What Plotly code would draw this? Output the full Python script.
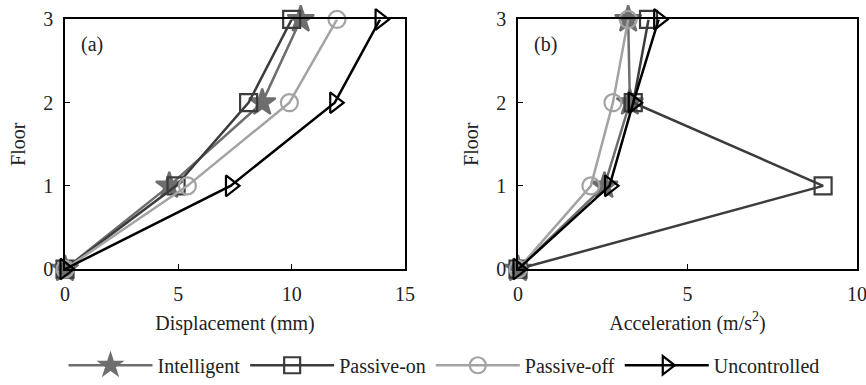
import plotly.graph_objects as go

floors = [0, 1, 2, 3]
series_names = ["Intelligent", "Passive-on", "Passive-off", "Uncontrolled"]

disp_intelligent = [0, 4.6, 8.7, 10.4]
disp_passive_on = [0, 4.9, 8.1, 10.0]
disp_passive_off = [0, 5.4, 9.9, 12.0]
disp_uncontrolled = [0, 7.3, 11.9, 13.9]

acc_intelligent = [0, 2.55, 3.3, 3.25]
acc_passive_on = [0, 9.0, 3.4, 3.85]
acc_passive_off = [0, 2.15, 2.8, 3.25]
acc_uncontrolled = [0, 2.7, 3.4, 4.15]

x_ticks_a = [0, 5, 10, 15]
x_ticks_b = [0, 5, 10]
y_ticks = [0, 1, 2, 3]

colors = ["#6e6e6e", "#3c3c3c", "#a3a3a3", "#000000"]
symbols = ["star", "square-open", "circle-open", "triangle-right-open"]
sizes = [20, 17, 17, 18]

disp = [disp_intelligent, disp_passive_on, disp_passive_off, disp_uncontrolled]
acc = [acc_intelligent, acc_passive_on, acc_passive_off, acc_uncontrolled]

FONT = "Liberation Serif"
FS = 20

fig = go.Figure()
for i, name in enumerate(series_names):
    for data, xa, show in [(disp[i], "x", True), (acc[i], "x2", False)]:
        fig.add_trace(go.Scatter(
            x=data, y=floors, xaxis=xa, yaxis="y" if xa == "x" else "y2",
            mode="lines+markers", name=name, showlegend=show, legendgroup=name,
            line=dict(color=colors[i], width=2.5),
            marker=dict(symbol=symbols[i], size=sizes[i], color=colors[i],
                        line=dict(color=colors[i], width=2.2)),
            cliponaxis=False,
        ))

axis_common = dict(showline=True, linecolor="black", linewidth=1.5, mirror=True,
                   ticks="inside", ticklen=5, tickwidth=1.2, tickcolor="black",
                   showgrid=False, zeroline=False, automargin=False,
                   ticklabeloverflow="allow",
                   tickfont=dict(family=FONT, size=FS, color="#222"))

W, H = 866, 385
ydom = [108 / H, 365 / H]

fig.update_layout(
    width=W, height=H,
    margin=dict(l=0, r=0, t=0, b=0),
    plot_bgcolor="white", paper_bgcolor="white",
    font=dict(family=FONT, size=FS, color="#222"),
    xaxis=dict(domain=[65 / W, 405 / W], range=[0, 15], tickvals=x_ticks_a, ticklabelstandoff=6,
               title=dict(text="Displacement (mm)", standoff=12, font=dict(family=FONT, size=FS)),
               anchor="y", **axis_common),
    yaxis=dict(domain=ydom, range=[0, 3], tickvals=y_ticks, ticklabelstandoff=6,
               title=dict(text="Floor", standoff=12, font=dict(family=FONT, size=FS)),
               anchor="x", **axis_common),
    xaxis2=dict(domain=[518 / W, 857 / W], range=[0, 10], tickvals=x_ticks_b, ticklabelstandoff=6,
                title=dict(text="Acceleration (m/s<sup>2</sup>)", standoff=12, font=dict(family=FONT, size=FS)),
                anchor="y2", **axis_common),
    yaxis2=dict(domain=ydom, range=[0, 3], tickvals=y_ticks, ticklabelstandoff=6,
                title=dict(text="Floor", standoff=12, font=dict(family=FONT, size=FS)),
                anchor="x2", **axis_common),
    legend=dict(orientation="h", x=444 / W, xanchor="center", y=(H - 376) / H, yanchor="middle",
                font=dict(family=FONT, size=FS, color="#222"), itemwidth=84,
                tracegroupgap=0, bgcolor="rgba(0,0,0,0)"),
    annotations=[
        dict(text="(a)", xref="x domain", yref="y domain", x=0.04, y=0.9,
             xanchor="left", yanchor="middle", showarrow=False, font=dict(family=FONT, size=FS)),
        dict(text="(b)", xref="x2 domain", yref="y2 domain", x=0.04, y=0.9,
             xanchor="left", yanchor="middle", showarrow=False, font=dict(family=FONT, size=FS)),
    ],
)

fig.write_html("out.html")
